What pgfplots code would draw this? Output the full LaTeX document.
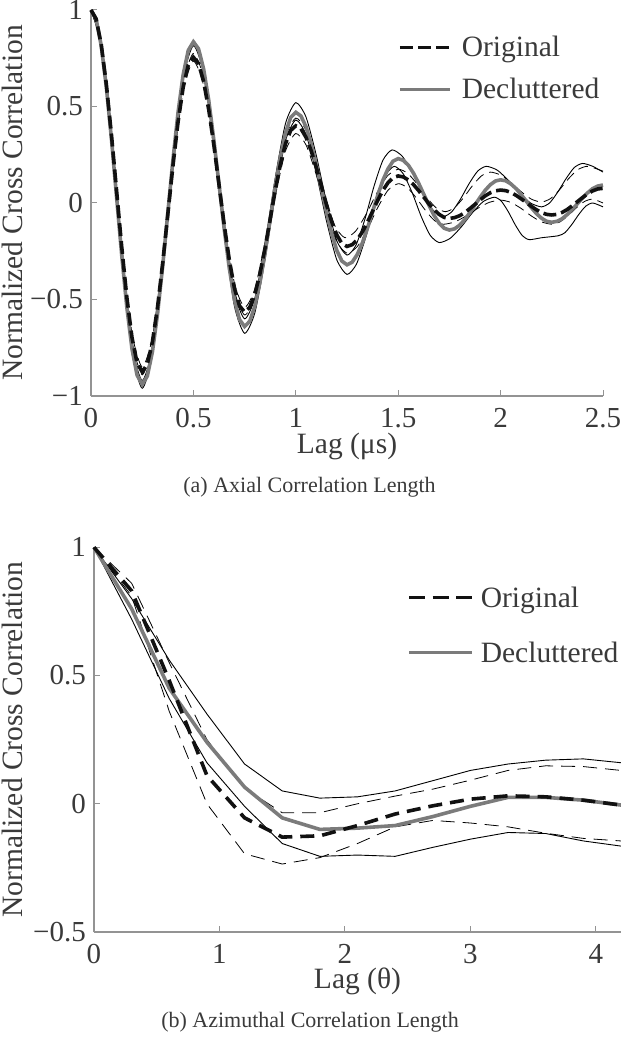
\documentclass[border=0pt]{standalone}
\usepackage{fontspec}
\setmainfont{Liberation Serif}
\usepackage{pgfplots}
\pgfplotsset{compat=1.18}
\definecolor{axgray}{HTML}{939393}
\definecolor{txtgray}{HTML}{3A3A3A}
\definecolor{declgray}{HTML}{7B7B7B}
\definecolor{origblack}{HTML}{111111}
\newcommand{\tickfont}{\fontsize{29}{29}\selectfont}
\newcommand{\labfont}{\fontsize{29.5}{29.5}\selectfont}
\newcommand{\capfont}{\fontsize{22}{22}\selectfont}
\pgfplotsset{
  panel/.style={
    scale only axis, clip=false,
    axis x line*=bottom, axis y line*=left,
    xtick pos=bottom, ytick pos=left,
    axis line style={draw=axgray, line width=1.3pt, -},
    every tick/.style={draw=axgray, line width=1pt},
    tick align=inside, major tick length=6pt,
    tick label style={font=\tickfont, text=txtgray, inner sep=0pt},
    xticklabel style={anchor=north, yshift=-12pt},
    yticklabel style={anchor=east, xshift=-8pt},
    label style={font=\labfont, text=txtgray},
    xlabel style={anchor=center},
    ylabel style={anchor=center},
    legend cell align=left,
    legend style={draw=none, fill=none, inner sep=0pt, font=\labfont, text=txtgray,
      nodes={inner sep=0pt, text height=20pt, text depth=7pt}},
  },
  omean/.style={color=origblack, line width=3.6pt, dash pattern=on 13pt off 5pt},
  dmean/.style={color=declgray, line width=3.6pt},
  othin/.style={color=black, line width=0.8pt, dash pattern=on 10pt off 6pt},
  dthin/.style={color=black, line width=0.9pt},
}
\begin{document}
\begin{tikzpicture}
\useasboundingbox (0pt,0pt) rectangle (621pt,1050pt);
% ---------------- (a) ----------------
\begin{axis}[panel,
  at={(91pt,654pt)}, anchor=south west,
  width=512pt, height=386pt,
  xmin=0, xmax=2.5, ymin=-1, ymax=1,
  xtick={0,0.5,1,1.5,2,2.5}, xticklabels={0,0.5,1,1.5,2,2.5},
  ytick={-1,-0.5,0,0.5,1}, yticklabels={−1,−0.5,0,0.5,1},
  xlabel={Lag (μs)}, ylabel={Normalized Cross Correlation},
  xlabel style={at={(axis description cs:0.5,-0.1300)}},
  ylabel style={at={(axis description cs:-0.1543,0.5)}},
  legend image code/.code={\draw[#1] (0pt,3pt) -- (50pt,3pt);},
  legend style={at={(axis description cs:0.5996,0.9308)}, anchor=north west,
    column sep=10pt, row sep=15pt},
]
\addlegendimage{omean}\addlegendentry{Original}
\addlegendimage{dmean}\addlegendentry{Decluttered}
% decluttered upper bound
\addplot[dthin, smooth, tension=0.4, forget plot] coordinates {
(0,1) (0.05,0.817) (0.1,0.337) (0.15,-0.257) (0.2,-0.737) (0.25,-0.92) (0.3,-0.752) (0.35,-0.312) (0.4,0.232) (0.45,0.672) (0.5,0.84) (0.55,0.702) (0.6,0.342) (0.65,-0.102) (0.7,-0.462) (0.75,-0.60) (0.8,-0.493) (0.85,-0.213) (0.9,0.133) (0.95,0.413) (1.0,0.52) (1.05,0.445) (1.1,0.247) (1.15,0.003) (1.2,-0.195) (1.25,-0.27) (1.294,-0.218) (1.338,-0.082) (1.382,0.087) (1.426,0.223) (1.47,0.275) (1.52,0.242) (1.57,0.156) (1.62,0.049) (1.67,-0.037) (1.72,-0.07) (1.762,-0.045) (1.804,0.020) (1.846,0.100) (1.888,0.165) (1.93,0.19) (1.984,0.170) (2.038,0.117) (2.092,0.053) (2.146,0.0) (2.2,-0.02) (2.24,0.001) (2.28,0.058) (2.32,0.127) (2.36,0.184) (2.4,0.205) (2.45,0.19) (2.5,0.16)};
% decluttered lower bound
\addplot[dthin, smooth, tension=0.4, forget plot] coordinates {
(0,1) (0.05,0.813) (0.1,0.323) (0.15,-0.283) (0.2,-0.773) (0.25,-0.96) (0.3,-0.790) (0.35,-0.347) (0.4,0.202) (0.45,0.645) (0.5,0.815) (0.55,0.673) (0.6,0.300) (0.65,-0.160) (0.7,-0.533) (0.75,-0.675) (0.8,-0.569) (0.85,-0.293) (0.9,0.048) (0.95,0.324) (1.0,0.43) (1.05,0.354) (1.1,0.154) (1.15,-0.094) (1.2,-0.294) (1.25,-0.37) (1.296,-0.317) (1.342,-0.177) (1.388,-0.003) (1.434,0.137) (1.48,0.19) (1.524,0.152) (1.568,0.054) (1.612,-0.069) (1.656,-0.167) (1.70,-0.205) (1.754,-0.183) (1.808,-0.124) (1.862,-0.051) (1.916,0.008) (1.97,0.03) (2.004,0.009) (2.038,-0.046) (2.072,-0.114) (2.106,-0.169) (2.14,-0.19) (2.2,-0.18) (2.28,-0.17) (2.314,-0.154) (2.348,-0.111) (2.382,-0.059) (2.416,-0.016) (2.45,0.0) (2.5,-0.02)};
% original upper bound
\addplot[othin, smooth, tension=0.4, forget plot] coordinates {
(0,1) (0.05,0.823) (0.1,0.361) (0.15,-0.211) (0.2,-0.673) (0.25,-0.85) (0.3,-0.695) (0.35,-0.289) (0.4,0.214) (0.45,0.620) (0.5,0.775) (0.55,0.649) (0.6,0.321) (0.65,-0.086) (0.7,-0.414) (0.75,-0.54) (0.8,-0.446) (0.85,-0.201) (0.9,0.101) (0.95,0.346) (1.0,0.44) (1.048,0.381) (1.096,0.226) (1.144,0.034) (1.192,-0.121) (1.24,-0.18) (1.292,-0.146) (1.344,-0.057) (1.396,0.052) (1.448,0.141) (1.5,0.175) (1.546,0.154) (1.592,0.099) (1.638,0.031) (1.684,-0.024) (1.73,-0.045) (1.774,-0.025) (1.818,0.026) (1.862,0.089) (1.906,0.140) (1.95,0.16) (2.0,0.145) (2.05,0.106) (2.1,0.059) (2.15,0.020) (2.2,0.005) (2.244,0.023) (2.288,0.069) (2.332,0.126) (2.376,0.172) (2.42,0.19) (2.46,0.18) (2.5,0.165)};
% original lower bound
\addplot[othin, smooth, tension=0.4, forget plot] coordinates {
(0,1) (0.05,0.820) (0.1,0.347) (0.15,-0.237) (0.2,-0.710) (0.25,-0.89) (0.3,-0.735) (0.35,-0.329) (0.4,0.174) (0.45,0.580) (0.5,0.735) (0.55,0.609) (0.6,0.281) (0.65,-0.126) (0.7,-0.454) (0.75,-0.58) (0.8,-0.490) (0.85,-0.255) (0.9,0.035) (0.95,0.270) (1.0,0.36) (1.05,0.301) (1.1,0.146) (1.15,-0.046) (1.2,-0.201) (1.25,-0.26) (1.3,-0.226) (1.35,-0.136) (1.4,-0.024) (1.45,0.066) (1.5,0.10) (1.544,0.080) (1.588,0.027) (1.632,-0.037) (1.676,-0.090) (1.72,-0.11) (1.776,-0.098) (1.832,-0.067) (1.888,-0.028) (1.944,0.003) (2.0,0.015) (2.05,0.003) (2.1,-0.028) (2.15,-0.067) (2.2,-0.098) (2.25,-0.11) (2.29,-0.098) (2.33,-0.065) (2.37,-0.025) (2.41,0.008) (2.45,0.02) (2.5,0.0)};
% decluttered mean
\addplot[dmean, forget plot] coordinates {
(0.000,1.000) (0.025,0.952) (0.050,0.815) (0.075,0.600) (0.100,0.330) (0.125,0.030) (0.150,-0.270) (0.175,-0.540) (0.200,-0.755) (0.225,-0.892) (0.250,-0.940) (0.275,-0.897) (0.300,-0.770) (0.325,-0.574) (0.350,-0.327) (0.375,-0.053) (0.400,0.222) (0.425,0.469) (0.450,0.665) (0.475,0.791) (0.500,0.835) (0.525,0.799) (0.550,0.694) (0.575,0.531) (0.600,0.325) (0.625,0.098) (0.650,-0.130) (0.675,-0.336) (0.700,-0.499) (0.725,-0.604) (0.750,-0.640) (0.775,-0.613) (0.800,-0.534) (0.825,-0.411) (0.850,-0.256) (0.875,-0.085) (0.900,0.086) (0.925,0.241) (0.950,0.364) (0.975,0.443) (1.000,0.470) (1.025,0.451) (1.050,0.395) (1.075,0.307) (1.100,0.197) (1.125,0.075) (1.150,-0.047) (1.175,-0.157) (1.200,-0.245) (1.225,-0.301) (1.250,-0.320) (1.275,-0.307) (1.300,-0.267) (1.325,-0.207) (1.350,-0.130) (1.375,-0.045) (1.400,0.040) (1.425,0.117) (1.450,0.177) (1.475,0.217) (1.500,0.230) (1.525,0.221) (1.550,0.195) (1.575,0.154) (1.600,0.102) (1.625,0.045) (1.650,-0.012) (1.675,-0.064) (1.700,-0.105) (1.725,-0.131) (1.750,-0.140) (1.775,-0.134) (1.800,-0.115) (1.825,-0.086) (1.850,-0.050) (1.875,-0.010) (1.900,0.030) (1.925,0.066) (1.950,0.095) (1.975,0.114) (2.000,0.120) (2.025,0.115) (2.050,0.099) (2.075,0.075) (2.100,0.044) (2.125,0.010) (2.150,-0.024) (2.175,-0.055) (2.200,-0.079) (2.225,-0.095) (2.250,-0.100) (2.275,-0.095) (2.300,-0.082) (2.325,-0.060) (2.350,-0.033) (2.375,-0.004) (2.400,0.026) (2.425,0.053) (2.450,0.075) (2.475,0.088) (2.500,0.093)};
% original mean
\addplot[omean, forget plot] coordinates {
(0.000,1.000) (0.025,0.954) (0.050,0.821) (0.075,0.614) (0.100,0.352) (0.125,0.063) (0.150,-0.227) (0.175,-0.489) (0.200,-0.696) (0.225,-0.829) (0.250,-0.875) (0.275,-0.835) (0.300,-0.719) (0.325,-0.539) (0.350,-0.312) (0.375,-0.060) (0.400,0.192) (0.425,0.419) (0.450,0.599) (0.475,0.715) (0.500,0.755) (0.525,0.723) (0.550,0.629) (0.575,0.483) (0.600,0.299) (0.625,0.095) (0.650,-0.109) (0.675,-0.293) (0.700,-0.439) (0.725,-0.533) (0.750,-0.565) (0.775,-0.541) (0.800,-0.473) (0.825,-0.366) (0.850,-0.232) (0.875,-0.083) (0.900,0.067) (0.925,0.201) (0.950,0.308) (0.975,0.376) (1.000,0.400) (1.025,0.385) (1.050,0.340) (1.075,0.271) (1.100,0.184) (1.125,0.088) (1.150,-0.009) (1.175,-0.096) (1.200,-0.165) (1.225,-0.210) (1.250,-0.225) (1.275,-0.216) (1.300,-0.190) (1.325,-0.150) (1.350,-0.099) (1.375,-0.043) (1.400,0.014) (1.425,0.065) (1.450,0.105) (1.475,0.131) (1.500,0.140) (1.525,0.135) (1.550,0.119) (1.575,0.095) (1.600,0.064) (1.625,0.030) (1.650,-0.004) (1.675,-0.035) (1.700,-0.059) (1.725,-0.075) (1.750,-0.080) (1.775,-0.076) (1.800,-0.066) (1.825,-0.050) (1.850,-0.029) (1.875,-0.007) (1.900,0.016) (1.925,0.037) (1.950,0.053) (1.975,0.063) (2.000,0.067) (2.025,0.064) (2.050,0.055) (2.075,0.040) (2.100,0.022) (2.125,0.003) (2.150,-0.017) (2.175,-0.035) (2.200,-0.050) (2.225,-0.059) (2.250,-0.062) (2.275,-0.059) (2.300,-0.049) (2.325,-0.034) (2.350,-0.014) (2.375,0.007) (2.400,0.028) (2.425,0.048) (2.450,0.063) (2.475,0.073) (2.500,0.076)};
\node[font=\capfont, text=txtgray] at (axis description cs:0.4268,-0.2358) {(a) Axial Correlation Length};
\end{axis}
% ---------------- (b) ----------------
\begin{axis}[panel,
  at={(94pt,118pt)}, anchor=south west,
  width=527pt, height=384.7pt,
  xmin=0, xmax=4.2, ymin=-0.5, ymax=1,
  xtick={0,1,2,3,4}, xticklabels={0,1,2,3,4},
  ytick={-0.5,0,0.5,1}, yticklabels={−0.5,0,0.5,1},
  xlabel={Lag (θ)}, ylabel={Normalized Cross Correlation},
  xlabel style={at={(axis description cs:0.5,-0.1275)}},
  ylabel style={at={(axis description cs:-0.1556,0.5)}},
  legend image code/.code={\draw[#1] (0pt,3pt) -- (63pt,3pt);},
  legend style={at={(axis description cs:0.594,0.8968)}, anchor=north west,
    column sep=7pt, row sep=28pt},
]
\addlegendimage{omean, dash pattern=on 16pt off 7.5pt}\addlegendentry{Original}
\addlegendimage{dmean}\addlegendentry{Decluttered}
\addplot[dthin, forget plot] coordinates {
(0,1) (0.3,0.80) (0.6,0.56) (0.9,0.35) (1.2,0.155) (1.5,0.05) (1.8,0.022) (2.1,0.027) (2.4,0.05) (2.7,0.09) (3.0,0.13) (3.3,0.155) (3.6,0.17) (3.9,0.175) (4.2,0.16)};
\addplot[dthin, forget plot] coordinates {
(0,1) (0.3,0.72) (0.6,0.41) (0.9,0.16) (1.2,-0.01) (1.5,-0.155) (1.8,-0.205) (2.1,-0.2) (2.4,-0.205) (2.7,-0.17) (3.0,-0.138) (3.3,-0.112) (3.6,-0.116) (3.9,-0.145) (4.2,-0.165)};
\addplot[othin, dash pattern=on 14pt off 8pt, forget plot] coordinates {
(0,1) (0.3,0.86) (0.6,0.55) (0.9,0.25) (1.2,0.06) (1.5,-0.035) (1.8,-0.035) (2.1,0.0) (2.4,0.03) (2.7,0.057) (3.0,0.092) (3.3,0.13) (3.6,0.148) (3.9,0.145) (4.2,0.13)};
\addplot[othin, dash pattern=on 14pt off 8pt, forget plot] coordinates {
(0,1) (0.3,0.81) (0.6,0.36) (0.9,0.0) (1.2,-0.195) (1.5,-0.235) (1.8,-0.21) (2.1,-0.155) (2.4,-0.09) (2.7,-0.065) (3.0,-0.075) (3.3,-0.09) (3.6,-0.115) (3.9,-0.135) (4.2,-0.145)};
\addplot[dmean, forget plot] coordinates {
(0,1) (0.3,0.76) (0.6,0.45) (0.9,0.24) (1.2,0.065) (1.5,-0.055) (1.8,-0.10) (2.1,-0.095) (2.4,-0.085) (2.7,-0.05) (3.0,-0.01) (3.3,0.025) (3.6,0.025) (3.9,0.014) (4.2,-0.005)};
\addplot[omean, dash pattern=on 14pt off 8pt, forget plot] coordinates {
(0,1) (0.3,0.83) (0.6,0.48) (0.9,0.11) (1.2,-0.055) (1.5,-0.13) (1.8,-0.125) (2.1,-0.085) (2.4,-0.04) (2.7,-0.008) (3.0,0.018) (3.3,0.031) (3.6,0.027) (3.9,0.014) (4.2,-0.005)};
\node[font=\capfont, text=txtgray] at (axis description cs:0.41,-0.234) {(b) Azimuthal Correlation Length};
\end{axis}
\end{tikzpicture}
\end{document}
